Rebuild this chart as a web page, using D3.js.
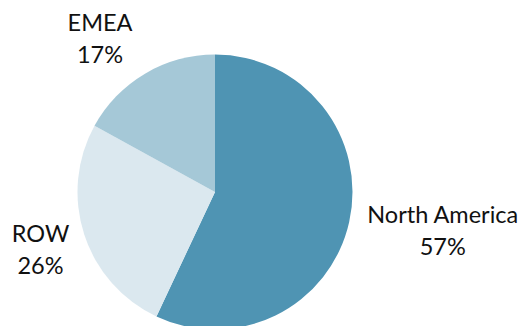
<!DOCTYPE html>
<html>
<head>
<meta charset="utf-8">
<script src="https://cdn.jsdelivr.net/npm/d3@7/dist/d3.min.js"></script>
<style>
  html, body { margin: 0; padding: 0; background: #fff; }
  svg { display: block; }
  text { font-family: Lato, "Open Sans", sans-serif; fill: #111; }
</style>
</head>
<body>
<div id="chart"></div>
<script>
// Regional revenue split
const regions = ["North America", "ROW", "EMEA"];
const shares = [57, 26, 17];
const colors = ["#4f94b3", "#dbe8ef", "#a5c8d7"];

const width = 525, height = 326;
const cx = 215, cy = 192, radius = 137.5;

const svg = d3.select("#chart").append("svg")
  .attr("width", width)
  .attr("height", height);

const pie = d3.pie().sort(null).value(d => d);
const arcs = pie(shares);
const arc = d3.arc().innerRadius(0).outerRadius(radius);

const g = svg.append("g").attr("transform", `translate(${cx},${cy})`);

g.selectAll("path.slice")
  .data(arcs)
  .join("path")
  .attr("class", "slice")
  .attr("d", arc)
  .attr("fill", (d, i) => colors[i]);

// Labels sit outside the pie, pushed out along each slice's mid angle
// and nudged so the two-line blocks clear the rim.
const labelArc = d3.arc().innerRadius(radius * 1.25).outerRadius(radius * 1.25);
const nudges = [[60, -2], [-11, 1.5], [-27.5, -8.5]];

const labels = svg.append("g").attr("transform", `translate(${cx},${cy})`)
  .selectAll("text.label")
  .data(arcs)
  .join("text")
  .attr("class", "label")
  .attr("text-anchor", "middle")
  .style("font-size", "23.5px")
  .attr("transform", (d, i) => {
    const [x, y] = labelArc.centroid(d);
    return `translate(${x + nudges[i][0]},${y + nudges[i][1]})`;
  });

labels.append("tspan")
  .attr("x", 0)
  .attr("dy", "-0.2em")
  .text((d, i) => regions[i]);

labels.append("tspan")
  .attr("x", 0)
  .attr("dy", "1.37em")
  .text(d => d.data + "%");
</script>
</body>
</html>
